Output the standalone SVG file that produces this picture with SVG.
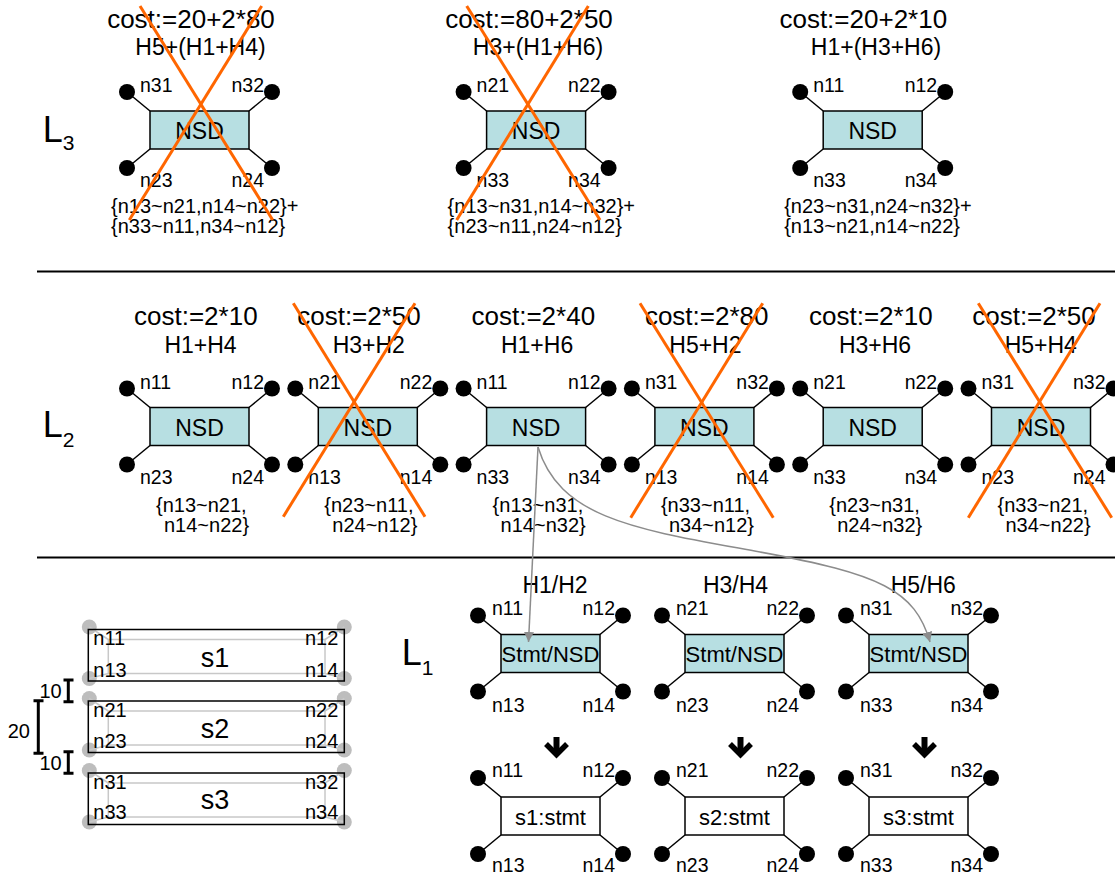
<svg xmlns="http://www.w3.org/2000/svg" width="1115" height="874" viewBox="0 0 1115 874">
<defs>
<style>
text{font-family:"Liberation Sans",Arial,sans-serif;fill:#000}
.n{font-size:19.5px}
.sn{font-size:20px}
.e{text-anchor:end}
.m{text-anchor:middle}
.cost{font-size:26px;text-anchor:middle}
.h{font-size:23px;text-anchor:middle}
.set{font-size:20px}
.nsd{font-size:23px;text-anchor:middle}
.stmt{font-size:22px;text-anchor:middle}
.box{fill:#B7DFE2;stroke:#000;stroke-width:1.5}
.wbox{fill:#fff;stroke:#000;stroke-width:1.5}
.pin{stroke:#000;stroke-width:1.5}
.cross{stroke:#FF6600;stroke-width:3}
.sep{stroke:#000;stroke-width:2}
.conn{fill:none;stroke:#8C8C8C;stroke-width:1.5;marker-end:url(#ah)}
.gc{fill:#BDBDBD}
.gl{fill:none;stroke:#C8C8C8;stroke-width:1.5}
.dim{stroke:#000;stroke-width:3;fill:none}
.big{font-size:36px}
.sl{font-size:27px;text-anchor:middle}
</style>
<marker id="ah" markerUnits="userSpaceOnUse" markerWidth="12" markerHeight="10" refX="10" refY="5" orient="auto"><path d="M0,0 L10,5 L0,10 z" fill="#8C8C8C"/></marker>
<g id="pins">
<line class="pin" x1="0" y1="0" x2="-23" y2="-19"/>
<line class="pin" x1="99" y1="0" x2="122" y2="-19"/>
<line class="pin" x1="0" y1="38" x2="-23" y2="57"/>
<line class="pin" x1="99" y1="38" x2="122" y2="57"/>
<circle cx="-23" cy="-19" r="8" fill="#000"/>
<circle cx="122" cy="-19" r="8" fill="#000"/>
<circle cx="-23" cy="57" r="8" fill="#000"/>
<circle cx="122" cy="57" r="8" fill="#000"/>
</g>
<g id="darrow">
<line x1="0" y1="0" x2="0" y2="15" stroke="#000" stroke-width="6"/>
<polyline points="-10.5,7 0,17.5 10.5,7" fill="none" stroke="#000" stroke-width="5.5"/>
</g>
<g id="stackpins">
<circle class="gc" cx="1" cy="-2.5" r="7.5"/>
<circle class="gc" cx="256" cy="-2.5" r="7.5"/>
<circle class="gc" cx="1" cy="49" r="7.5"/>
<circle class="gc" cx="256" cy="49" r="7.5"/>
<rect class="gl" x="20" y="10" width="216.7" height="34"/>
<line class="gl" x1="1" y1="-2.5" x2="20" y2="10"/>
<line class="gl" x1="256" y1="-2.5" x2="236.7" y2="10"/>
<line class="gl" x1="1" y1="49" x2="20" y2="44"/>
<line class="gl" x1="256" y1="49" x2="236.7" y2="44"/>
<rect x="0" y="0" width="256" height="51.5" fill="none" stroke="#000" stroke-width="1.5"/>
</g>
</defs>
<rect width="1115" height="874" fill="#fff"/>

<!-- separators and level labels -->
<g id="frame">
<line class="sep" x1="37" y1="271.5" x2="1115" y2="271.5"/>
<line class="sep" x1="37" y1="557.5" x2="1115" y2="557.5"/>
<text class="big" x="42.7" y="141.7">L<tspan font-size="21" dy="8.3">3</tspan></text>
<text class="big" x="42.7" y="436.7">L<tspan font-size="21" dy="10">2</tspan></text>
<text class="big" x="401.7" y="665">L<tspan font-size="21" dy="10">1</tspan></text>
</g>

<!-- L3 -->
<g id="L3a">
<g transform="translate(150,111)">
<use href="#pins"/><rect class="box" width="99" height="38"/>
<text class="nsd" x="49.5" y="28">NSD</text>
<text class="n" x="-10" y="-19">n31</text><text class="n e" x="114" y="-19">n32</text>
<text class="n" x="-10" y="76">n23</text><text class="n e" x="114" y="76">n24</text>
</g>
<text class="cost" x="191" y="28">cost:=20+2*80</text>
<text class="h" x="200.5" y="55">H5+(H1+H4)</text>
<text class="set" x="111" y="213.3">{n13~n21,n14~n22}+</text>
<text class="set" x="111" y="233.3">{n33~n11,n34~n12}</text>
<line class="cross" x1="140" y1="6" x2="272.7" y2="220"/>
<line class="cross" x1="261.7" y1="6" x2="129.3" y2="220"/>
</g>
<g id="L3b">
<g transform="translate(486.6,111)">
<use href="#pins"/><rect class="box" width="99" height="38"/>
<text class="nsd" x="49.5" y="28">NSD</text>
<text class="n" x="-10" y="-19">n21</text><text class="n e" x="114" y="-19">n22</text>
<text class="n" x="-10" y="76">n33</text><text class="n e" x="114" y="76">n34</text>
</g>
<text class="cost" x="529" y="28">cost:=80+2*50</text>
<text class="h" x="538" y="55">H3+(H1+H6)</text>
<text class="set" x="447.6" y="213.3">{n13~n31,n14~n32}+</text>
<text class="set" x="447.6" y="233.3">{n23~n11,n24~n12}</text>
<line class="cross" x1="466.7" y1="6" x2="600" y2="220"/>
<line class="cross" x1="588.3" y1="6" x2="456.7" y2="220"/>
</g>
<g id="L3c">
<g transform="translate(823.2,111)">
<use href="#pins"/><rect class="box" width="99" height="38"/>
<text class="nsd" x="49.5" y="28">NSD</text>
<text class="n" x="-10" y="-19">n11</text><text class="n e" x="114" y="-19">n12</text>
<text class="n" x="-10" y="76">n33</text><text class="n e" x="114" y="76">n34</text>
</g>
<text class="cost" x="863.3" y="28">cost:=20+2*10</text>
<text class="h" x="876" y="55">H1+(H3+H6)</text>
<text class="set" x="784.2" y="213.3">{n23~n31,n24~n32}+</text>
<text class="set" x="784.2" y="233.3">{n13~n21,n14~n22}</text>
</g>

<!-- L2 -->
<g id="L2a">
<g transform="translate(150,407.5)">
<use href="#pins"/><rect class="box" width="99" height="38"/>
<text class="nsd" x="49.5" y="28">NSD</text>
<text class="n" x="-10" y="-19">n11</text><text class="n e" x="114" y="-19">n12</text>
<text class="n" x="-10" y="76.5">n23</text><text class="n e" x="114" y="76.5">n24</text>
<text class="set" x="6" y="104.2">{n13~n21,</text>
<text class="set" x="14" y="124.2">n14~n22}</text>
</g>
<text class="cost" x="195.8" y="325">cost:=2*10</text>
<text class="h" x="200.5" y="353">H1+H4</text>
</g>
<g id="L2b">
<g transform="translate(318.3,407.5)">
<use href="#pins"/><rect class="box" width="99" height="38"/>
<text class="nsd" x="49.5" y="28">NSD</text>
<text class="n" x="-10" y="-19">n21</text><text class="n e" x="114" y="-19">n22</text>
<text class="n" x="-10" y="76.5">n13</text><text class="n e" x="114" y="76.5">n14</text>
<text class="set" x="6" y="104.2">{n23~n11,</text>
<text class="set" x="14" y="124.2">n24~n12}</text>
</g>
<text class="cost" x="359" y="325">cost:=2*50</text>
<text class="h" x="368.8" y="353">H3+H2</text>
<line class="cross" x1="293.3" y1="303.3" x2="425" y2="516.7"/>
<line class="cross" x1="415" y1="303.3" x2="283.3" y2="516.7"/>
</g>
<g id="L2c">
<g transform="translate(486.6,407.5)">
<use href="#pins"/><rect class="box" width="99" height="38"/>
<text class="nsd" x="49.5" y="28">NSD</text>
<text class="n" x="-10" y="-19">n11</text><text class="n e" x="114" y="-19">n12</text>
<text class="n" x="-10" y="76.5">n33</text><text class="n e" x="114" y="76.5">n34</text>
<text class="set" x="6" y="104.2">{n13~n31,</text>
<text class="set" x="14" y="124.2">n14~n32}</text>
</g>
<text class="cost" x="533.3" y="325">cost:=2*40</text>
<text class="h" x="537.1" y="353">H1+H6</text>
</g>
<g id="L2d">
<g transform="translate(654.9,407.5)">
<use href="#pins"/><rect class="box" width="99" height="38"/>
<text class="nsd" x="49.5" y="28">NSD</text>
<text class="n" x="-10" y="-19">n31</text><text class="n e" x="114" y="-19">n32</text>
<text class="n" x="-10" y="76.5">n13</text><text class="n e" x="114" y="76.5">n14</text>
<text class="set" x="6" y="104.2">{n33~n11,</text>
<text class="set" x="14" y="124.2">n34~n12}</text>
</g>
<text class="cost" x="706.7" y="325">cost:=2*80</text>
<text class="h" x="705.4" y="353">H5+H2</text>
<line class="cross" x1="640" y1="303.3" x2="773.3" y2="517.7"/>
<line class="cross" x1="762.7" y1="303.3" x2="630.7" y2="517.7"/>
</g>
<g id="L2e">
<g transform="translate(823.2,407.5)">
<use href="#pins"/><rect class="box" width="99" height="38"/>
<text class="nsd" x="49.5" y="28">NSD</text>
<text class="n" x="-10" y="-19">n21</text><text class="n e" x="114" y="-19">n22</text>
<text class="n" x="-10" y="76.5">n33</text><text class="n e" x="114" y="76.5">n34</text>
<text class="set" x="6" y="104.2">{n23~n31,</text>
<text class="set" x="14" y="124.2">n24~n32}</text>
</g>
<text class="cost" x="870.8" y="325">cost:=2*10</text>
<text class="h" x="875" y="353">H3+H6</text>
</g>
<g id="L2f">
<g transform="translate(991.5,407.5)">
<use href="#pins"/><rect class="box" width="99" height="38"/>
<text class="nsd" x="49.5" y="28">NSD</text>
<text class="n" x="-10" y="-19">n31</text><text class="n e" x="114" y="-19">n32</text>
<text class="n" x="-10" y="76.5">n23</text><text class="n e" x="114" y="76.5">n24</text>
<text class="set" x="6" y="104.2">{n33~n21,</text>
<text class="set" x="14" y="124.2">n34~n22}</text>
</g>
<text class="cost" x="1034" y="325">cost:=2*50</text>
<text class="h" x="1040.8" y="353">H5+H4</text>
<line class="cross" x1="978.3" y1="303.3" x2="1111.7" y2="517.7"/>
<line class="cross" x1="1100" y1="303.3" x2="968.3" y2="517.7"/>
</g>

<!-- L1 -->
<g id="L1a">
<text class="h" x="555" y="593">H1/H2</text>
<g transform="translate(501,634.5)">
<use href="#pins"/><rect class="box" width="99" height="38"/>
<text class="stmt" x="49.5" y="27.2">Stmt/NSD</text>
<text class="n" x="-9" y="-19.5">n11</text><text class="n e" x="114" y="-19.5">n12</text>
<text class="n" x="-9" y="77">n13</text><text class="n e" x="114" y="77">n14</text>
</g>
</g>
<g id="L1b">
<text class="h" x="735.5" y="593">H3/H4</text>
<g transform="translate(685,634.5)">
<use href="#pins"/><rect class="box" width="99" height="38"/>
<text class="stmt" x="49.5" y="27.2">Stmt/NSD</text>
<text class="n" x="-9" y="-19.5">n21</text><text class="n e" x="114" y="-19.5">n22</text>
<text class="n" x="-9" y="77">n23</text><text class="n e" x="114" y="77">n24</text>
</g>
</g>
<g id="L1c">
<text class="h" x="923.3" y="593">H5/H6</text>
<g transform="translate(869,634.5)">
<use href="#pins"/><rect class="box" width="99" height="38"/>
<text class="stmt" x="49.5" y="27.2">Stmt/NSD</text>
<text class="n" x="-9" y="-19.5">n31</text><text class="n e" x="114" y="-19.5">n32</text>
<text class="n" x="-9" y="77">n33</text><text class="n e" x="114" y="77">n34</text>
</g>
</g>
<g id="arrows">
<use href="#darrow" x="556.5" y="737"/>
<use href="#darrow" x="740.5" y="737"/>
<use href="#darrow" x="924.5" y="737"/>
</g>
<g id="S1">
<g transform="translate(501,797)">
<use href="#pins"/><rect class="wbox" width="99" height="38"/>
<text class="stmt" x="49.5" y="28">s1:stmt</text>
<text class="n" x="-9" y="-20">n11</text><text class="n e" x="114" y="-20">n12</text>
<text class="n" x="-9" y="75">n13</text><text class="n e" x="114" y="75">n14</text>
</g>
</g>
<g id="S2">
<g transform="translate(685,797)">
<use href="#pins"/><rect class="wbox" width="99" height="38"/>
<text class="stmt" x="49.5" y="28">s2:stmt</text>
<text class="n" x="-9" y="-20">n21</text><text class="n e" x="114" y="-20">n22</text>
<text class="n" x="-9" y="75">n23</text><text class="n e" x="114" y="75">n24</text>
</g>
</g>
<g id="S3">
<g transform="translate(869,797)">
<use href="#pins"/><rect class="wbox" width="99" height="38"/>
<text class="stmt" x="49.5" y="28">s3:stmt</text>
<text class="n" x="-9" y="-20">n31</text><text class="n e" x="114" y="-20">n32</text>
<text class="n" x="-9" y="75">n33</text><text class="n e" x="114" y="75">n34</text>
</g>
</g>

<!-- connectors -->
<g id="connectors">
<path class="conn" d="M538,447 L528.5,642"/>
<path class="conn" d="M538,447 C560,520 640,530 760,552 S915,590 930,642"/>
</g>

<!-- stack layout -->
<g id="stack">
<g transform="translate(88.3,629.5)">
<use href="#stackpins"/>
<text class="sn" x="5" y="15.5">n11</text><text class="sn e" x="250" y="15.5">n12</text>
<text class="sn" x="5" y="47">n13</text><text class="sn e" x="250" y="47">n14</text>
<text class="sl" x="126.7" y="37">s1</text>
</g>
<g transform="translate(88.3,701)">
<use href="#stackpins"/>
<text class="sn" x="5" y="15.5">n21</text><text class="sn e" x="250" y="15.5">n22</text>
<text class="sn" x="5" y="47">n23</text><text class="sn e" x="250" y="47">n24</text>
<text class="sl" x="126.7" y="37">s2</text>
</g>
<g transform="translate(88.3,773)">
<use href="#stackpins"/>
<text class="sn" x="5" y="15.5">n31</text><text class="sn e" x="250" y="15.5">n32</text>
<text class="sn" x="5" y="46">n33</text><text class="sn e" x="250" y="46">n34</text>
<text class="sl" x="126.7" y="36">s3</text>
</g>
<path class="dim" d="M63.5,680 H73.5 M68.3,680 V701.7 M63.5,701.7 H73.5"/>
<path class="dim" d="M63.5,751.7 H73.5 M68.3,751.7 V773.3 M63.5,773.3 H73.5"/>
<path class="dim" d="M33.5,700.7 H43.5 M38.3,700.7 V753.3 M33.5,753.3 H43.5"/>
<text class="sn e" x="61.7" y="698.3">10</text>
<text class="sn e" x="61.7" y="770">10</text>
<text class="sn e" x="30" y="738.3">20</text>
</g>
</svg>
